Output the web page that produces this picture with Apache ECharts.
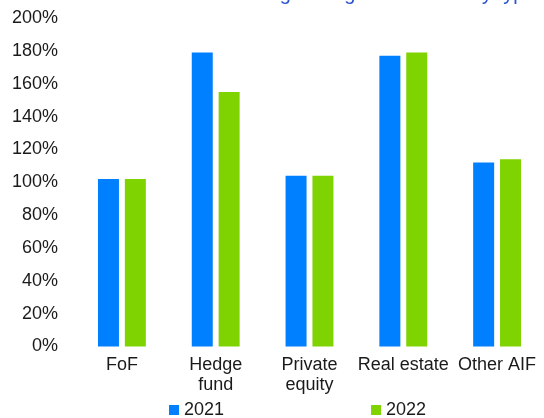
<!DOCTYPE html>
<html>
<head>
<meta charset="utf-8">
<script src="https://cdn.jsdelivr.net/npm/echarts@6/dist/echarts.min.js"></script>
<style>
  html, body { margin: 0; padding: 0; background: #fff; }
  #chart { width: 544px; height: 418px; }
</style>
</head>
<body>
<div id="chart"></div>
<script>
const categories = ['FoF', 'Hedge\nfund', 'Private\nequity', 'Real estate', 'Other AIF']
const values2021 = [102, 179, 104, 177, 112]
const values2022 = [102, 155, 104, 179, 114]
const seriesNames = ['2021', '2022']

const chart = echarts.init(document.getElementById('chart'))

const font = 'Liberation Sans, Arial, sans-serif'

const option = {
  backgroundColor: '#fff',
  animation: false,

  title: {
    text: 'Gross and commitment leverage of significant AIFs by type',
    left: 8,
    top: -21,
    textStyle: {
      color: '#2a55cc',
      fontSize: 20,
      fontWeight: 'normal',
      fontFamily: font
    }
  },

  legend: {
    left: 164,
    top: 396,
    itemWidth: 10,
    itemHeight: 10,
    itemGap: 147,
    icon: 'rect',
    textStyle: {
      color: '#1a1a1a',
      fontSize: 18,
      fontFamily: font
    },
    data: seriesNames
  },

  grid: {
    left: 75,
    right: -11,
    top: 18,
    bottom: 71.5,
    containLabel: false
  },

  xAxis: {
    type: 'category',
    data: categories,
    axisLine: { show: false },
    axisTick: { show: false },
    axisLabel: {
      interval: 0,
      color: '#1a1a1a',
      fontSize: 18,
      lineHeight: 20,
      margin: 9,
      fontFamily: font
    }
  },

  yAxis: {
    type: 'value',
    min: 0,
    max: 200,
    interval: 20,
    axisLine: { show: false },
    axisTick: { show: false },
    splitLine: { show: false },
    axisLabel: {
      formatter: '{value}%',
      color: '#1a1a1a',
      fontSize: 18,
      margin: 17,
      fontFamily: font
    }
  },

  series: [
    {
      name: seriesNames[0],
      type: 'bar',
      data: values2021,
      barWidth: 21,
      barGap: '28%',
      itemStyle: { color: '#0080ff' }
    },
    {
      name: seriesNames[1],
      type: 'bar',
      data: values2022,
      barWidth: 21,
      itemStyle: { color: '#7ed300' }
    }
  ]
}

chart.setOption(option)
</script>
</body>
</html>
